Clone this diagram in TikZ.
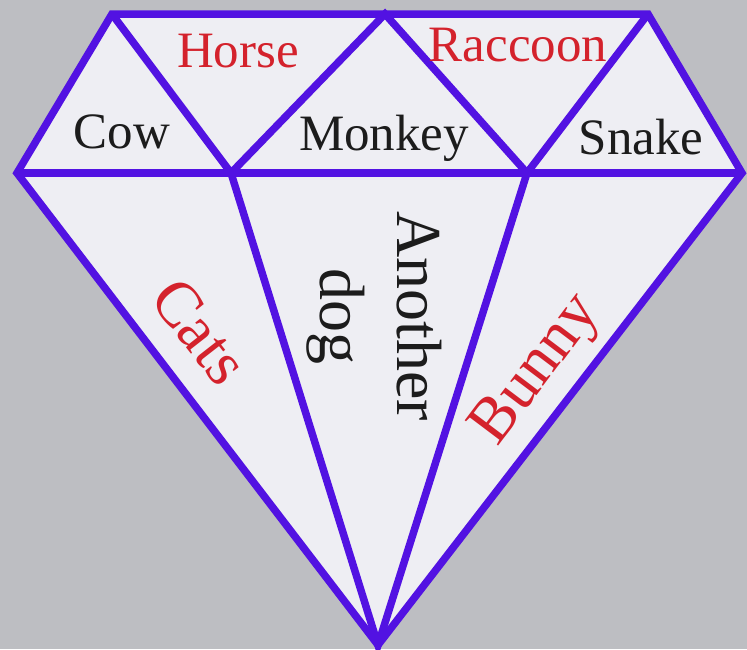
\documentclass[tikz,border=0pt]{standalone}
\usepackage{fontspec}
\setmainfont{Liberation Serif}
\definecolor{bgc}{RGB}{189,190,194}
\definecolor{facec}{RGB}{238,238,243}
\definecolor{edgec}{RGB}{82,18,226}
\definecolor{redc}{RGB}{212,34,44}
\definecolor{inkc}{RGB}{28,28,28}
\tikzset{
  edge/.style={draw=edgec, line width=7.5pt, line join=miter, line cap=butt},
  flat/.style={font=\fontsize{51}{61}\selectfont, inner sep=0pt, anchor=base},
  tilted/.style={font=\fontsize{64}{77}\selectfont, inner sep=0pt},
  redtxt/.style={text=redc},
  blacktxt/.style={text=inkc}
}
\begin{document}
\begin{tikzpicture}[x=1pt,y=-1pt]
\useasboundingbox (0,0) rectangle (747,649);
\fill[bgc] (0,0) rectangle (747,649);
% vertices
\coordinate (TL) at (112,14);
\coordinate (TR) at (648,14);
\coordinate (AP) at (385,14);
\coordinate (ML) at (17,173);
\coordinate (MR) at (742,173);
\coordinate (IL) at (231,173);
\coordinate (IR) at (527,173);
\coordinate (BT) at (378,645);
% body
\fill[facec] (TL) -- (TR) -- (MR) -- (BT) -- (ML) -- cycle;
% inner facets
\draw[edge] (TL) -- (IL) -- (AP) -- (IR) -- (TR);
\draw[edge] (ML) -- (MR);
\draw[edge] (IL) -- (BT) -- (IR);
% outline
\draw[edge] (TL) -- (TR) -- (MR) -- (BT) -- (ML) -- cycle;
% labels
\node[flat, redtxt] (horse) at (238,67) {Horse};
\node[flat, redtxt] (raccoon) at (518,61) {Raccoon};
\node[flat, blacktxt] (cow) at (122,148) {Cow};
\node[flat, blacktxt] (monkey) at (384,150) {Monkey};
\node[flat, blacktxt] (snake) at (641,154) {Snake};
\node[tilted, blacktxt, rotate=-90, anchor=base] (another) at (397,316) {Another};
\node[tilted, blacktxt, rotate=-90, anchor=base] (dog) at (320,316) {dog};
\node[tilted, redtxt, rotate=-52] (cats) at (200,331) {Cats};
\node[tilted, redtxt, rotate=53] (bunny) at (538,371) {Bunny};
\end{tikzpicture}
\end{document}
